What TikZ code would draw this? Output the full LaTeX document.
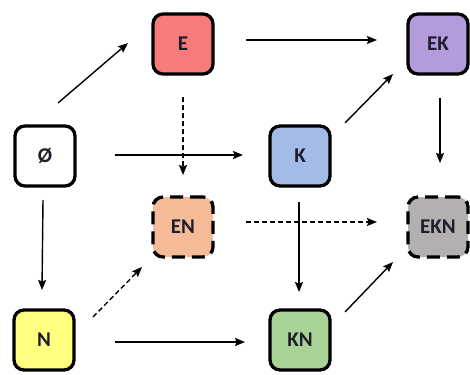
\documentclass[tikz,border=0pt]{standalone}
\usepackage{fontspec}
\setmainfont{Carlito}
\usetikzlibrary{arrows.meta,calc}
\definecolor{cE}{HTML}{F77B7B}
\definecolor{cEK}{HTML}{B39BDC}
\definecolor{cK}{HTML}{A4BBE8}
\definecolor{cEN}{HTML}{F5BB99}
\definecolor{cEKN}{HTML}{B5B0B0}
\definecolor{cN}{HTML}{FFFF80}
\definecolor{cKN}{HTML}{A9D396}
\definecolor{txt}{HTML}{1E1E2A}
\tikzset{
  box/.style={draw=black, line width=3.3pt, rounded corners=10pt, minimum width=60pt, minimum height=60pt, inner sep=0pt, font=\fontsize{21}{23}\selectfont\bfseries, text=txt},
  dbox/.style={box, dash pattern=on 13pt off 7pt},
  arr/.style={line width=1.4pt, -{Stealth[length=10pt,width=8pt,inset=1.5pt]}},
  darr/.style={arr, dash pattern=on 5pt off 3pt}
}
\begin{document}
\begin{tikzpicture}[x=1pt,y=-1pt]
\useasboundingbox[fill=white] (0,0) rectangle (470,374);
\node[box, fill=white] (O) at (45,156) {Ø};
\node[box, fill=cE] (E) at (183,44) {E};
\node[box, fill=cEK] (EK) at (438,44) {EK};
\node[box, fill=cK] (K) at (300,156) {K};
\node[dbox, fill=cEN] (EN) at (183,227) {EN};
\node[dbox, fill=cEKN] (EKN) at (438,227) {EKN};
\node[box, fill=cN] (N) at (44,340) {N};
\node[box, fill=cKN] (KN) at (300,340) {KN};
\draw[arr] ($(O)+(13,-53)$) -- ($(E)+(-55,-1)$);
\draw[arr] ($(E)+(63,-4)$) -- ($(EK)+(-61,-4)$);
\draw[darr] ($(E)+(0,53)$) -- ($(EN)+(0,-52)$);
\draw[arr] ($(O)+(70,-1)$) -- ($(K)+(-57,-1)$);
\draw[arr] ($(K)+(45,-33)$) -- ($(EK)+(-45,30)$);
\draw[arr] ($(EK)+(2,54)$) -- ($(EKN)+(2,-64)$);
\draw[arr] ($(O)+(-2,44)$) -- ($(N)+(-2,-50)$);
\draw[darr] ($(N)+(49,-23)$) -- ($(EN)+(-41,40)$);
\draw[darr] ($(EN)+(63,-5)$) -- ($(EKN)+(-61,-5)$);
\draw[arr] ($(K)+(-1,46)$) -- ($(KN)+(-1,-48)$);
\draw[arr] ($(N)+(71,2)$) -- ($(KN)+(-55,2)$);
\draw[arr] ($(KN)+(45,-28)$) -- ($(EKN)+(-45,35)$);
\end{tikzpicture}
\end{document}
